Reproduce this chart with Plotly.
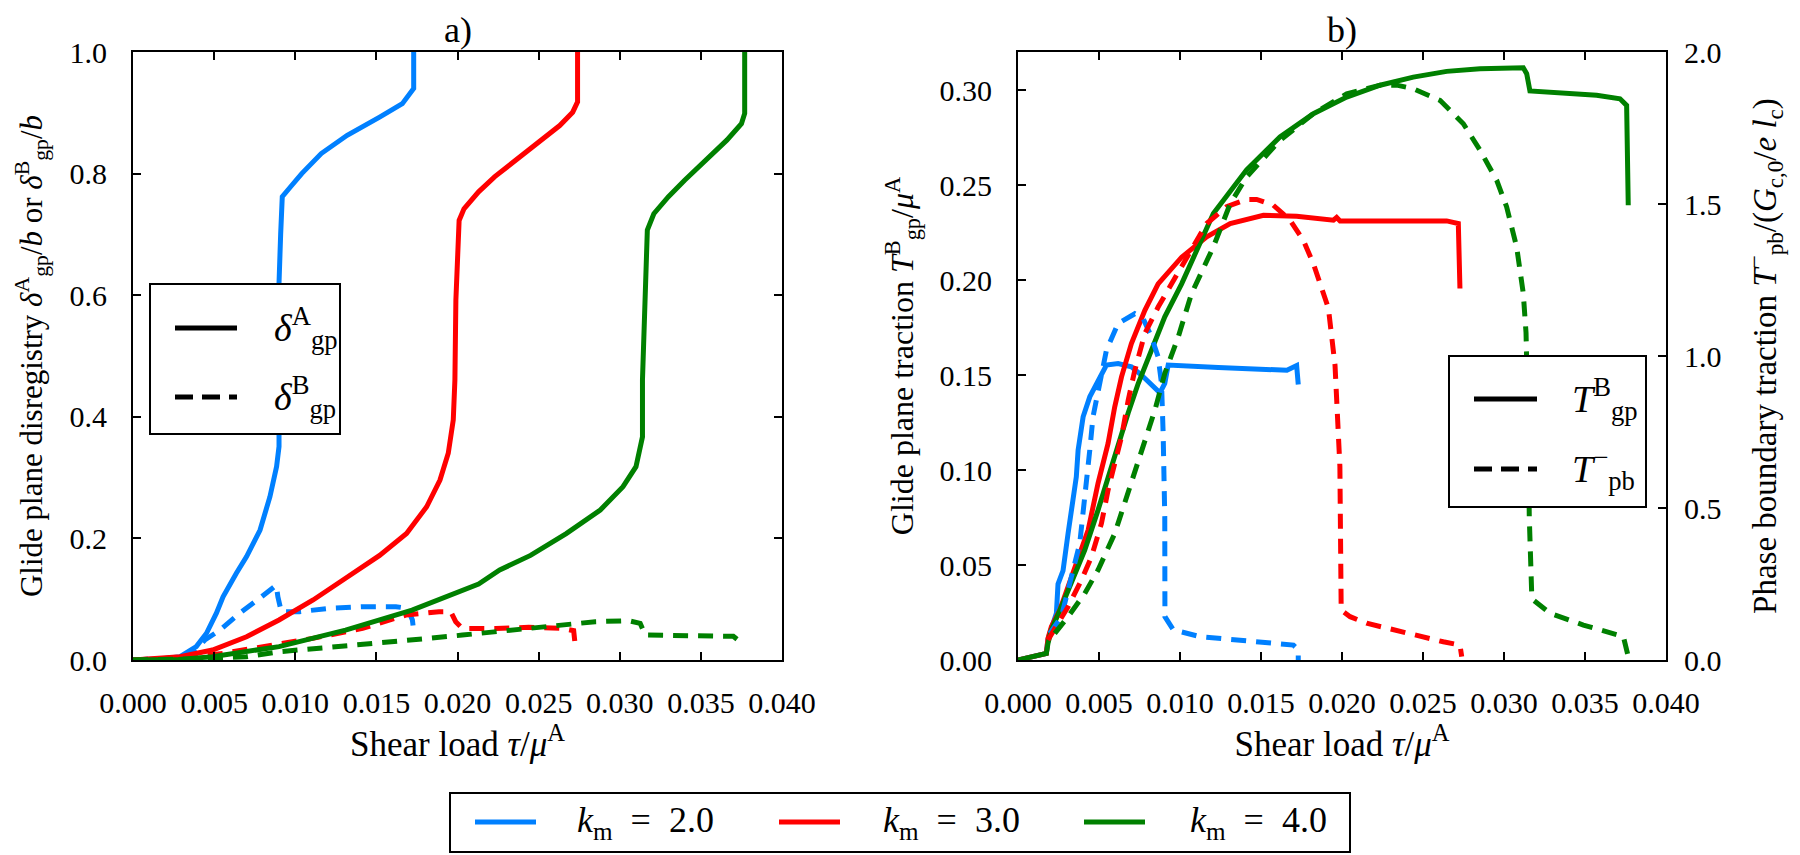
import plotly.graph_objects as go

# ---------------- data ----------------
# a) glide-plane disregistry (left panel): solid = delta_gp^A, dashed = delta_gp^B
kA2_x = [0, 0.0018, 0.0029, 0.0039, 0.00453, 0.00514, 0.00555, 0.00608, 0.00637, 0.0070, 0.00783, 0.00844, 0.00885,
         0.0090, 0.0090, 0.0090, 0.0091, 0.0092, 0.0097, 0.0104, 0.0116, 0.0132, 0.0152, 0.0166, 0.0173, 0.0173]
kA2_y = [0, 0.002, 0.0055, 0.022, 0.044, 0.077, 0.104, 0.1316, 0.1426, 0.170, 0.2138, 0.2686, 0.318,
         0.351, 0.4605, 0.62, 0.70, 0.762, 0.778, 0.80, 0.833, 0.863, 0.893, 0.915, 0.94, 1.0]
kB2_x = [0, 0.0025, 0.0037, 0.00443, 0.00535, 0.00658, 0.0078, 0.00883, 0.00893, 0.00914, 0.01026, 0.0121,
         0.01415, 0.0162, 0.01692, 0.01722, 0.01733]
kB2_y = [0, 0.003, 0.012, 0.033, 0.049, 0.077, 0.1014, 0.123, 0.104, 0.0795, 0.0795, 0.085,
         0.0877, 0.0877, 0.085, 0.0658, 0.041]

kA3_x = [0, 0.0029, 0.0049, 0.0070, 0.0090, 0.0111, 0.0131, 0.0152, 0.01686, 0.0181, 0.01892, 0.01943, 0.01974,
         0.01984, 0.0199, 0.0201, 0.0204, 0.0213, 0.0223, 0.0236, 0.0249, 0.0263, 0.0271, 0.0274, 0.0274]
kA3_y = [0, 0.0055, 0.0164, 0.0383, 0.0658, 0.0987, 0.1345, 0.172, 0.208, 0.252, 0.296, 0.340, 0.395,
         0.4605, 0.592, 0.723, 0.742, 0.77, 0.795, 0.822, 0.849, 0.879, 0.901, 0.918, 1.0]
kB3_x = [0, 0.0035, 0.00555, 0.0080, 0.01108, 0.01415, 0.01682, 0.01886, 0.01958, 0.01989, 0.0203, 0.02235,
         0.02439, 0.02644, 0.02716, 0.02726]
kB3_y = [0, 0.004, 0.011, 0.022, 0.0356, 0.052, 0.074, 0.0795, 0.0795, 0.063, 0.052, 0.052,
         0.0537, 0.052, 0.0482, 0.023]

kA4_x = [0, 0.0028, 0.0049, 0.0090, 0.0131, 0.0172, 0.0213, 0.0226, 0.0245, 0.0267, 0.0288, 0.0302, 0.0310,
         0.0314, 0.0314, 0.0316, 0.0317, 0.0321, 0.0330, 0.0340, 0.0353, 0.0366, 0.0375, 0.0377, 0.0377]
kA4_y = [0, 0.001, 0.0055, 0.022, 0.049, 0.082, 0.125, 0.148, 0.172, 0.208, 0.2467, 0.285, 0.318,
         0.367, 0.4605, 0.592, 0.707, 0.734, 0.762, 0.789, 0.822, 0.855, 0.882, 0.899, 1.0]
kB4_x = [0, 0.0045, 0.00699, 0.00903, 0.0121, 0.01518, 0.01825, 0.0203, 0.02235, 0.02439, 0.02644, 0.02849,
         0.03054, 0.03126, 0.03157, 0.03361, 0.0370, 0.0376]
kB4_y = [0, 0.002, 0.0055, 0.0137, 0.0208, 0.0274, 0.0356, 0.041, 0.0466, 0.052, 0.0576, 0.063,
         0.0647, 0.0603, 0.041, 0.0395, 0.039, 0.026]

# b) tractions (right panel): T_gp^B on the left axis (solid), T_pb^- on the right axis (dashed)
tg2_x = [0, 0.00175, 0.00185, 0.00206, 0.00237, 0.00247, 0.00278, 0.00309, 0.0033, 0.0036, 0.00371, 0.00402,
         0.00443, 0.00494, 0.00546, 0.00618, 0.0070, 0.00762, 0.00824, 0.00876, 0.00906, 0.00927, 0.01236,
         0.0151, 0.0166, 0.0172, 0.0173]
tg2_y = [0, 0.0035, 0.011, 0.0158, 0.0246, 0.040, 0.047, 0.0666, 0.0806, 0.0964, 0.1104, 0.128,
         0.1385, 0.1473, 0.1552, 0.156, 0.1543, 0.150, 0.1447, 0.1406, 0.1456, 0.1552, 0.154,
         0.153, 0.1525, 0.155, 0.145]
tp2_x = [0.00196, 0.00268, 0.00381, 0.00412, 0.00443, 0.00463, 0.00494, 0.00546, 0.00618, 0.00721, 0.00773,
         0.00824, 0.00865, 0.00886, 0.00896, 0.00906, 0.00907, 0.00959, 0.01123, 0.01432, 0.0170, 0.0173, 0.0173]
tp2_y = [0.0875, 0.1425, 0.383, 0.526, 0.69, 0.80, 0.8875, 1.019, 1.107, 1.139, 1.123,
         1.0625, 0.997, 0.909, 0.745, 0.471, 0.1425, 0.099, 0.077, 0.060, 0.049, 0.033, 0.0]

tg3_x = [0, 0.00175, 0.00185, 0.00206, 0.00258, 0.00309, 0.00371, 0.00433, 0.00494, 0.00556, 0.00597, 0.00639,
         0.0070, 0.00783, 0.00865, 0.0101, 0.01165, 0.0131, 0.01515, 0.0172, 0.01947, 0.01967, 0.01988,
         0.02235, 0.02646, 0.02718, 0.02728]
tg3_y = [0, 0.0035, 0.0113, 0.0175, 0.0263, 0.0386, 0.0543, 0.0684, 0.093, 0.114, 0.1332, 0.149,
         0.1665, 0.184, 0.198, 0.212, 0.2227, 0.2297, 0.2341, 0.2336, 0.2315, 0.2329, 0.2311,
         0.2311, 0.2311, 0.2297, 0.1955]
tp3_x = [0.00185, 0.00309, 0.00391, 0.00453, 0.00515, 0.00556, 0.00597, 0.00639, 0.0068, 0.00721, 0.00783,
         0.00865, 0.00948, 0.0103, 0.01165, 0.01288, 0.01411, 0.01473, 0.01576, 0.01679, 0.01761, 0.01823,
         0.01885, 0.01916, 0.01957, 0.01976, 0.01987, 0.01995, 0.0205, 0.02152, 0.02358, 0.02625, 0.02728, 0.02739]
tp3_y = [0.066, 0.175, 0.2625, 0.339, 0.449, 0.559, 0.646, 0.734, 0.854, 0.953, 1.074,
         1.161, 1.2375, 1.315, 1.436, 1.491, 1.515, 1.515, 1.496, 1.447, 1.381, 1.304,
         1.206, 1.1575, 0.969, 0.75, 0.6375, 0.164, 0.1425, 0.121, 0.093, 0.060, 0.049, 0.011]

tg4_x = [0, 0.00175, 0.00185, 0.00206, 0.00268, 0.0033, 0.00412, 0.00494, 0.00556, 0.00618, 0.0068, 0.00742,
         0.00824, 0.00906, 0.0101, 0.0110, 0.01206, 0.01411, 0.01617, 0.01823, 0.02029, 0.02235, 0.0244,
         0.02646, 0.02852, 0.03119, 0.0314, 0.0316, 0.03366, 0.03572, 0.03716, 0.03757, 0.03767]
tg4_y = [0, 0.0035, 0.0087, 0.0158, 0.028, 0.0403, 0.0578, 0.0789, 0.0964, 0.114, 0.13, 0.1455,
         0.163, 0.1806, 0.198, 0.2157, 0.235, 0.258, 0.2753, 0.2875, 0.2963, 0.3025, 0.3068,
         0.3098, 0.3112, 0.3117, 0.3086, 0.2995, 0.2981, 0.2972, 0.2954, 0.2919, 0.2393]
tp4_x = [0.00227, 0.00309, 0.00412, 0.00494, 0.00597, 0.0070, 0.00783, 0.00845, 0.00906, 0.00989, 0.01071,
         0.01154, 0.01206, 0.0131, 0.01411, 0.01617, 0.01823, 0.02029, 0.02235, 0.02338, 0.0244, 0.02605,
         0.02749, 0.02852, 0.02955, 0.03016, 0.03078, 0.03119, 0.03136, 0.0315, 0.03156, 0.03171, 0.03181,
         0.03284, 0.0349, 0.03737, 0.03767]
tp4_y = [0.0875, 0.1425, 0.219, 0.296, 0.416, 0.581, 0.7125, 0.822, 0.9425, 1.0625, 1.205,
         1.304, 1.359, 1.501, 1.589, 1.709, 1.797, 1.8625, 1.891, 1.891, 1.879, 1.841,
         1.764, 1.677, 1.578, 1.491, 1.359, 1.206, 1.076, 0.75, 0.471, 0.219, 0.1975,
         0.154, 0.115, 0.077, 0.011]

NB = "\u00a0"
km_labels = [f"<i>k</i><sub>m</sub>{NB}{NB}={NB}{NB}2.0",
             f"<i>k</i><sub>m</sub>{NB}{NB}={NB}{NB}3.0",
             f"<i>k</i><sub>m</sub>{NB}{NB}={NB}{NB}4.0"]
colors = ["#0080ff", "#ff0000", "#008000"]

x_ticks = [0.000, 0.005, 0.010, 0.015, 0.020, 0.025, 0.030, 0.035, 0.040]
ya_ticks = [0.0, 0.2, 0.4, 0.6, 0.8, 1.0]
yb_ticks = [0.00, 0.05, 0.10, 0.15, 0.20, 0.25, 0.30]
yb2_ticks = [0.0, 0.5, 1.0, 1.5, 2.0]

# ---------------- layout helpers ----------------
W, H = 1800, 855
L, R, T, B = 133, 1666, 52, 660
FONT = "Liberation Serif, Times New Roman, serif"
LW = 5
DASH = "15px,10px"


def px(x):
    return (x - L) / (R - L)


def py(y):
    return (B - y) / (B - T)


def f(size):
    return dict(family=FONT, size=size, color="black")


fig = go.Figure()

left_sets = [(kA2_x, kA2_y, kB2_x, kB2_y), (kA3_x, kA3_y, kB3_x, kB3_y), (kA4_x, kA4_y, kB4_x, kB4_y)]
right_sets = [(tg2_x, tg2_y, tp2_x, tp2_y), (tg3_x, tg3_y, tp3_x, tp3_y), (tg4_x, tg4_y, tp4_x, tp4_y)]

for i, (ax, ay, bx, by) in enumerate(left_sets):
    fig.add_trace(go.Scatter(x=ax, y=ay, mode="lines", line=dict(color=colors[i], width=LW),
                             name=km_labels[i], showlegend=False, xaxis="x", yaxis="y"))
    fig.add_trace(go.Scatter(x=bx, y=by, mode="lines", line=dict(color=colors[i], width=LW, dash=DASH),
                             name=km_labels[i], showlegend=False, xaxis="x", yaxis="y"))
for i, (gx, gy, qx, qy) in enumerate(right_sets):
    fig.add_trace(go.Scatter(x=gx, y=gy, mode="lines", line=dict(color=colors[i], width=LW),
                             name=km_labels[i], showlegend=False, xaxis="x2", yaxis="y2"))
    fig.add_trace(go.Scatter(x=qx, y=qy, mode="lines", line=dict(color=colors[i], width=LW, dash=DASH),
                             name=km_labels[i], showlegend=False, xaxis="x2", yaxis="y3"))

common = dict(showline=True, linecolor="black", linewidth=2, ticks="inside", ticklen=8, tickwidth=1.5,
              tickcolor="black", showgrid=False, zeroline=False, tickfont=f(30))

xtitle = "Shear load <i>τ</i>/<i>μ</i><sup>A</sup>"
ytitle_a = ("Glide plane disregistry <i>δ</i><sup>A</sup><sub>gp</sub>/<i>b</i> or "
            "<i>δ</i><sup>B</sup><sub>gp</sub>/<i>b</i>" + NB * 4)
ytitle_b = "Glide plane traction <i>T</i><sup>B</sup><sub>gp</sub>/<i>μ</i><sup>A</sup>" + NB * 6
ytitle_b2 = ("Phase boundary traction <i>T</i><sup>−</sup><sub>pb</sub>/"
             "(<i>G</i><sub>c,0</sub>/<i>e</i> <i>l</i><sub>c</sub>)" + NB * 5)

fig.update_layout(
    width=W, height=H,
    margin=dict(l=L, r=W - R, t=T, b=H - B, pad=0),
    paper_bgcolor="white", plot_bgcolor="white",
    font=f(30),
    showlegend=False,
    xaxis=dict(domain=[0, px(782)], range=[0, 0.04], tickvals=x_ticks, tickformat=".3f", mirror="ticks",
               anchor="y", ticklabelstandoff=15,
               title=dict(text=xtitle, font=f(35), standoff=12), **common),
    yaxis=dict(domain=[0, 1], range=[0, 1.0], tickvals=ya_ticks, tickformat=".1f", mirror="ticks",
               anchor="x", ticklabelstandoff=18,
               title=dict(text=ytitle_a, font=f(31), standoff=18), **common),
    xaxis2=dict(domain=[px(1018), 1], range=[0, 0.04], tickvals=x_ticks, tickformat=".3f", mirror="ticks",
                anchor="y2", ticklabelstandoff=15,
                title=dict(text=xtitle, font=f(35), standoff=12), **common),
    yaxis2=dict(domain=[0, 1], range=[0, 0.32], tickvals=yb_ticks, tickformat=".2f", anchor="x2",
                ticklabelstandoff=18,
                title=dict(text=ytitle_b, font=f(32), standoff=16), **common),
    yaxis3=dict(range=[0, 2.0], tickvals=yb2_ticks, tickformat=".1f", anchor="x2", overlaying="y2",
                side="right", ticklabelstandoff=10,
                title=dict(text=ytitle_b2, font=f(33), standoff=32), **common),
)

# panel titles
for txt, xc in (("a)", px((133 + 782) / 2)), ("b)", px((1018 + 1666) / 2))):
    fig.add_annotation(text=txt, x=xc, y=py(30), xref="paper", yref="paper", showarrow=False,
                       xanchor="center", yanchor="middle", font=f(36))


def box(x0, y0, x1, y1):
    fig.add_shape(type="rect", xref="paper", yref="paper", x0=px(x0), x1=px(x1), y0=py(y0), y1=py(y1),
                  fillcolor="white", line=dict(color="black", width=2), layer="above")


def sample(x0, x1, y, color, dash="solid"):
    fig.add_shape(type="line", xref="paper", yref="paper", x0=px(x0), x1=px(x1), y0=py(y), y1=py(y),
                  line=dict(color=color, width=LW, dash=dash), layer="above")


def label(text, x, y, size):
    fig.add_annotation(text=text, x=px(x), y=py(y), xref="paper", yref="paper", showarrow=False,
                       xanchor="left", yanchor="middle", font=f(size))


# line-style keys inside each panel
box(150, 284, 340, 434)
sample(175, 237, 328, "black")
sample(175, 237, 397, "black", "18px,9px")
label("<i>δ</i><sup>A</sup><sub>gp</sub>", 272, 328, 38)
label("<i>δ</i><sup>B</sup><sub>gp</sub>", 272, 397, 38)

box(1449, 356, 1646, 507)
sample(1474, 1537, 399, "black")
sample(1474, 1537, 469, "black", "18px,9px")
label("<i>T</i><sup>B</sup><sub>gp</sub>", 1570, 399, 38)
label("<i>T</i><sup>−</sup><sub>pb</sub>", 1570, 469, 38)

# colour key below the panels
box(450, 793, 1350, 852)
for i, (sx, tx) in enumerate(((475, 575), (779, 881), (1084, 1188))):
    sample(sx, sx + 61, 822, colors[i])
    label(km_labels[i], tx, 822, 36)

fig.write_html("out.html")
